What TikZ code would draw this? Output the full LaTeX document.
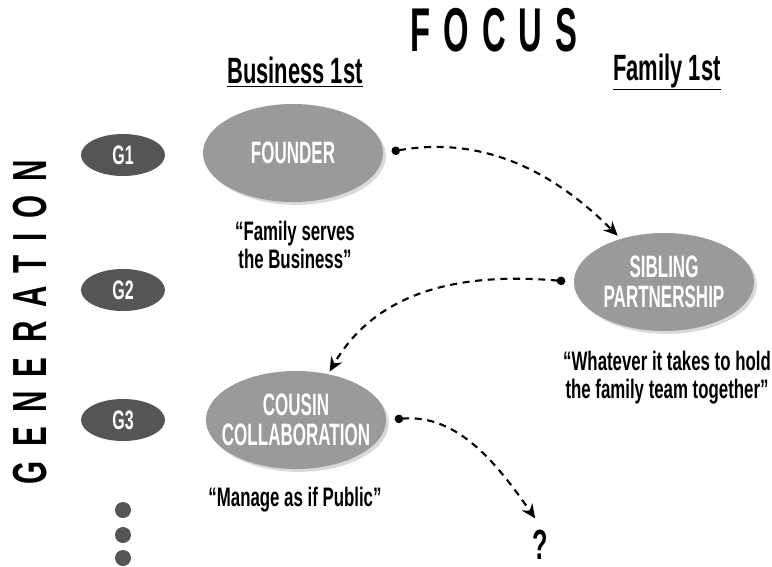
\documentclass[tikz,border=0pt]{standalone}
\usepackage{fontspec}
\usetikzlibrary{positioning}
\usetikzlibrary{arrows.meta}
\usetikzlibrary{shadows}
\usetikzlibrary{shapes.geometric}
\newfontfamily\condfont{Liberation Sans}[FakeStretch=0.6]
\newfontfamily\ovfont{Liberation Sans}[FakeStretch=0.55]
\newfontfamily\quotefont{Liberation Sans}[FakeStretch=0.63]
\newfontfamily\spacedfont{Liberation Sans}[FakeStretch=0.62,LetterSpace=30]
\newfontfamily\focusfont{Liberation Sans}[FakeStretch=0.53,LetterSpace=21]
\definecolor{midgray}{HTML}{9A9A9A}
\definecolor{darkgray}{HTML}{555555}

\begin{document}
\begin{tikzpicture}[x=0.025cm, y=0.025cm, align=center,
	ovnode/.style={ellipse,fill=midgray,text=white,minimum width=4.5cm,minimum height=2.45cm,inner xsep=-1.2cm,inner ysep=-0.4cm,
		drop shadow={shadow xshift=2pt,shadow yshift=-2pt,opacity=0.3},font=\ovfont\bfseries\fontsize{22}{23}\selectfont},
	gnode/.style={ellipse,fill=darkgray,text=white,minimum width=2.1cm,minimum height=1.05cm,inner sep=0pt,
		font=\condfont\bfseries\fontsize{19}{19}\selectfont},
	qlab/.style={font=\quotefont\bfseries\fontsize{19}{20}\selectfont},
	flow/.style={line width=1.5pt,dash pattern=on 5pt off 4pt,{Circle[length=6pt]}-{Stealth[length=10pt,width=9pt]}}]
	\useasboundingbox (0,0) rectangle (772,-567);
	% headings
	\node[font=\focusfont\bfseries\fontsize{44}{44}\selectfont](focus) at (494,-30){FOCUS};
	\node[font=\condfont\bfseries\fontsize{26}{26}\selectfont](bus) at (295,-72){\underline{Business 1st}};
	\node[font=\condfont\bfseries\fontsize{26}{26}\selectfont](fam) at (667,-72){\underline{Family 1st}};
	\node[font=\spacedfont\bfseries\fontsize{34}{34}\selectfont,rotate=90](gen) at (30,-322){GENERATION};
	% generations
	\node[gnode](g1) at (123,-155){G1};
	\node[gnode](g2) at (123,-290){G2};
	\node[gnode](g3) at (123,-420){G3};
	\fill[darkgray] (123,-510) circle (8) (123,-535) circle (8) (123,-558) circle (8);
	% stages
	\node[ovnode](fd) at (293,-153){FOUNDER};
	\node[ovnode](sp) at (664,-282){SIBLING\\[-2pt]PARTNERSHIP};
	\node[ovnode](cc) at (296,-420){COUSIN\\[-2pt]COLLABORATION};
	\node[qlab](fdq) at (295,-245){“Family serves\\the Business”};
	\node[qlab](spq) at (667,-378){“Whatever it takes to hold\\the family team together”};
	\node[qlab](ccq) at (295,-500){“Manage as if Public”};
	\node[font=\condfont\bfseries\fontsize{30}{30}\selectfont](qm) at (540,-545){?};
	% transitions
	\draw[flow,shorten <=6pt,shorten >=3pt] (fd.east) to[out=10,in=135] (sp.135);
	\draw[flow,shorten <=6pt,shorten >=2pt] (sp.west) to[out=175,in=60] (cc.55);
	\draw[flow,shorten <=6pt,shorten >=6pt] (cc.east) to[out=5,in=125] (qm.north);
\end{tikzpicture}
\end{document}
